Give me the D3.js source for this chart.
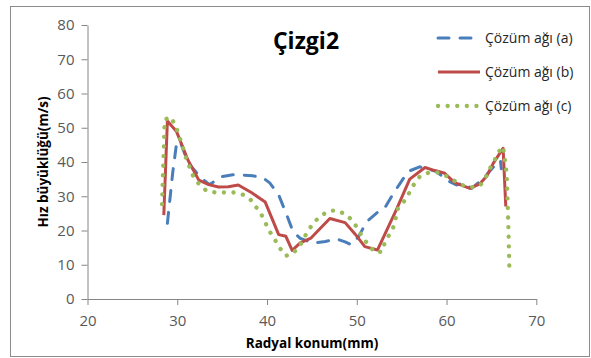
<!DOCTYPE html>
<html>
<head>
<meta charset="utf-8">
<script src="https://cdn.jsdelivr.net/npm/d3@7"></script>
<style>
  html, body { margin: 0; padding: 0; background: #fff; }
  svg { display: block; }
</style>
</head>
<body>
<svg id="chart" width="591" height="358"></svg>
<script>
// ---- data ----
const title = "Çizgi2";
const xLabel = "Radyal konum(mm)";
const yLabel = "Hız büyüklüğü(m/s)";
const xTicks = [20, 30, 40, 50, 60, 70];
const yTicks = [0, 10, 20, 30, 40, 50, 60, 70, 80];
const seriesNames = ["Çözüm ağı (a)", "Çözüm ağı (b)", "Çözüm ağı (c)"];

const xA = [28.9, 29.5, 29.9, 30.3, 31.2, 32.7, 33.6, 34.9, 36.2, 37.2, 38.4, 39.5, 40.3, 41.3, 42.2, 42.9, 43.7, 45.2, 46.5, 47.8, 48.7, 49.4, 50.2, 51.1, 52.4, 53.1, 54.1, 55.7, 57.0, 58.9, 60.0, 61.1, 61.9, 62.8, 64.1, 65.6, 66.0, 66.1];
const yA = [22.1, 37.0, 45.0, 46.2, 39.8, 35.2, 33.4, 35.7, 36.3, 36.2, 36.0, 35.5, 33.9, 30.4, 24.5, 19.7, 17.7, 16.3, 16.8, 17.5, 16.7, 15.8, 18.2, 22.6, 25.5, 26.5, 30.9, 37.2, 38.6, 37.2, 34.7, 33.3, 33.8, 32.3, 35.2, 39.6, 40.5, 38.0];

const xB = [28.5, 28.9, 29.9, 31.2, 32.4, 33.5, 34.6, 35.7, 36.8, 38.3, 39.8, 41.3, 42.1, 42.8, 43.7, 44.9, 46.0, 47.0, 48.7, 49.8, 50.9, 52.3, 54.4, 55.9, 57.6, 58.7, 59.8, 60.9, 62.6, 63.7, 64.5, 65.2, 66.3, 66.6];
const yB = [24.5, 52.0, 49.0, 40.5, 34.7, 33.4, 32.7, 32.8, 33.3, 31.0, 28.3, 18.8, 18.3, 14.2, 16.4, 17.8, 20.8, 23.5, 22.3, 19.0, 15.3, 14.3, 26.0, 35.0, 38.4, 37.5, 36.7, 34.0, 32.3, 33.6, 36.0, 39.6, 44.0, 27.0];

const xC = [28.3, 28.6, 29.2, 29.8, 30.3, 31.05, 31.8, 32.5, 33.3, 34.3, 35.3, 36.35, 37.4, 38.3, 39.4, 40.3, 40.9, 41.45, 42.1, 42.9, 43.7, 44.6, 45.3, 46.1, 47.0, 47.9, 48.9, 49.6, 50.2, 50.7, 51.5, 52.0, 52.8, 53.1, 54.1, 54.6, 55.4, 56.4, 57.0, 58.0, 58.9, 59.8, 60.75, 61.7, 62.8, 63.7, 64.3, 64.85, 65.3, 65.65, 66.3, 66.7, 66.9, 67.0];
const yC = [27.7, 52.3, 53.2, 50.8, 46.9, 40.6, 35.7, 33.3, 31.5, 31.1, 31.1, 31.1, 30.4, 28.7, 24.5, 19.7, 17.2, 14.8, 12.6, 13.3, 15.8, 20.1, 22.6, 24.5, 25.8, 25.8, 24.5, 22.6, 20.1, 17.7, 15.3, 13.6, 13.8, 16.3, 21.1, 26.5, 28.9, 33.6, 35.7, 36.9, 37.0, 36.2, 34.7, 33.3, 32.6, 33.0, 35.2, 38.2, 40.1, 42.5, 44.5, 36.7, 20.1, 9.0];

// ---- drawing ----
const svg = d3.select("#chart");
const font = "'Open Sans', 'DejaVu Sans', sans-serif";

svg.append("rect")
  .attr("x", 10.5).attr("y", 6.5).attr("width", 579).attr("height", 350)
  .attr("fill", "#fff").attr("stroke", "#8c8c8c").attr("stroke-width", 1);

const x = d3.scaleLinear().domain([20, 70]).range([87.5, 536.3]);
const y = d3.scaleLinear().domain([0, 80]).range([299, 25]);

const axisColor = "#868686";
const tickTextColor = "#595959";

const gx = svg.append("g").attr("transform", `translate(0,${y(0)})`)
  .call(d3.axisBottom(x).tickValues(xTicks).tickSize(6).tickSizeOuter(0).tickPadding(10).tickFormat(d3.format("d")));
const gy = svg.append("g").attr("transform", `translate(${x(20)},0)`)
  .call(d3.axisLeft(y).tickValues(yTicks).tickSize(6).tickSizeOuter(0).tickPadding(7).tickFormat(d3.format("d")));

[gx, gy].forEach(g => {
  g.select(".domain").attr("stroke", axisColor);
  g.selectAll(".tick line").attr("stroke", axisColor);
  g.selectAll(".tick text").attr("fill", tickTextColor)
    .style("font-family", font).style("font-size", "15px");
});

const styles = [
  { color: "#4a7ebb", width: 3, dash: "11,11", cap: "round" },
  { color: "#be4b48", width: 3, dash: null, cap: "butt" },
  { color: "#9bbb59", width: 4.3, dash: "0.1,9.5", cap: "round" }
];
const data = [
  xA.map((v, i) => [v, yA[i]]),
  xB.map((v, i) => [v, yB[i]]),
  xC.map((v, i) => [v, yC[i]])
];

const line = d3.line().x(d => x(d[0])).y(d => y(d[1])).curve(d3.curveLinear);
[0, 1, 2].forEach(i => {
  svg.append("path")
    .datum(data[i])
    .attr("d", line)
    .attr("fill", "none")
    .attr("stroke", styles[i].color)
    .attr("stroke-width", styles[i].width)
    .attr("stroke-linecap", styles[i].cap)
    .attr("stroke-linejoin", "round")
    .attr("stroke-dasharray", styles[i].dash);
});

// title
svg.append("text")
  .attr("x", 306).attr("y", 49)
  .attr("text-anchor", "middle")
  .style("font-family", font).style("font-weight", "bold").style("font-size", "23px")
  .attr("fill", "#000").text(title);

// legend
const legY = [38, 72, 106];
seriesNames.forEach((name, i) => {
  const s = styles[i];
  svg.append("line")
    .attr("x1", 438).attr("x2", 480).attr("y1", legY[i]).attr("y2", legY[i])
    .attr("stroke", s.color).attr("stroke-width", s.width)
    .attr("stroke-linecap", s.cap).attr("stroke-dasharray", s.dash);
  svg.append("text")
    .attr("x", 485).attr("y", legY[i] + 5)
    .style("font-family", font).style("font-size", "14px")
    .attr("fill", "#262626").text(name);
});

// axis labels
svg.append("text")
  .attr("x", 312).attr("y", 348)
  .attr("text-anchor", "middle")
  .style("font-family", font).style("font-weight", "bold").style("font-size", "13.5px")
  .attr("fill", "#000").text(xLabel);

svg.append("text")
  .attr("transform", "translate(48,162) rotate(-90)")
  .attr("text-anchor", "middle")
  .style("font-family", font).style("font-weight", "bold").style("font-size", "13.5px")
  .attr("fill", "#000").text(yLabel);
</script>
</body>
</html>
